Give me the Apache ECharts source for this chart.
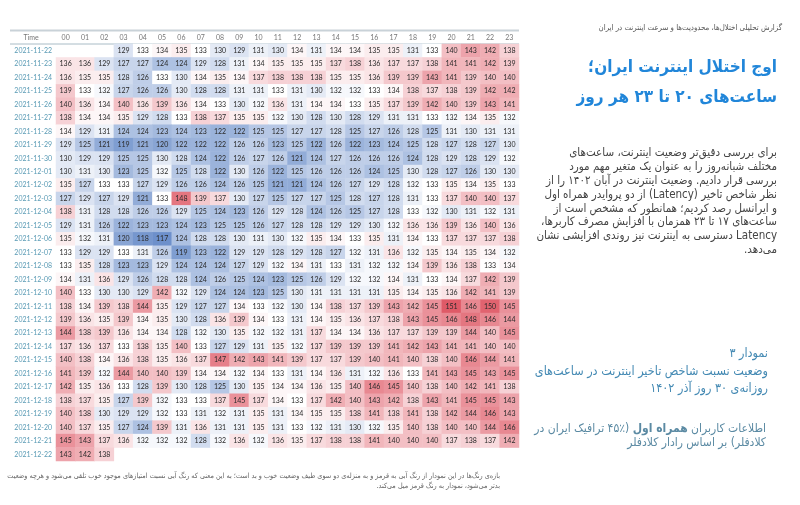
<!DOCTYPE html>
<html>
<head>
<meta charset="utf-8">
<script src="https://cdn.jsdelivr.net/npm/echarts@6/dist/echarts.min.js"></script>
<style>
html,body{margin:0;padding:0;background:#fff;}
#c{width:800px;height:505px;direction:rtl;}
</style>
</head>
<body>
<div id="c"></div>
<script>
const hours = ['00','01','02','03','04','05','06','07','08','09','10','11','12','13','14','15','16','17','18','19','20','21','22','23'];
const days = ['2021-11-22','2021-11-23','2021-11-24','2021-11-25','2021-11-26','2021-11-27','2021-11-28','2021-11-29','2021-11-30','2021-12-01','2021-12-02','2021-12-03','2021-12-04','2021-12-05','2021-12-06','2021-12-07','2021-12-08','2021-12-09','2021-12-10','2021-12-11','2021-12-12','2021-12-13','2021-12-14','2021-12-15','2021-12-16','2021-12-17','2021-12-18','2021-12-19','2021-12-20','2021-12-21','2021-12-22'];

const d1122 = [null,null,null,129,133,134,135,133,130,129,131,130,134,131,134,134,135,135,131,133,140,143,142,138];
const d1123 = [136,136,129,127,127,124,124,129,128,131,134,135,135,135,137,138,136,137,137,138,141,141,142,139];
const d1124 = [136,135,135,128,126,133,130,134,135,134,137,138,138,138,135,135,136,139,139,143,141,139,140,140];
const d1125 = [139,133,132,127,126,126,130,128,128,131,131,133,131,130,132,132,133,134,138,137,138,139,142,142];
const d1126 = [140,136,134,140,136,139,136,134,133,130,132,136,131,134,134,133,135,137,139,142,140,139,143,141];
const d1127 = [138,134,134,135,129,128,133,138,137,135,135,132,130,128,130,128,129,131,131,133,132,134,135,132];
const d1128 = [134,129,131,124,124,123,124,123,122,122,125,125,127,127,128,125,127,126,128,125,131,130,131,131];
const d1129 = [129,125,121,119,121,120,122,122,122,126,126,123,125,122,126,122,123,124,125,128,127,128,127,130];
const d1130 = [130,129,129,125,125,130,128,124,122,126,127,126,121,124,127,126,126,126,124,128,129,128,129,132];
const d1201 = [130,131,130,123,125,132,125,128,122,130,126,122,125,126,126,126,124,125,130,128,127,126,130,130];
const d1202 = [135,127,133,133,127,129,126,126,124,126,125,121,121,124,126,127,129,128,132,133,135,134,135,133];
const d1203 = [127,129,127,129,121,133,148,139,137,130,127,125,127,127,125,128,127,128,131,133,137,140,140,137];
const d1204 = [138,131,128,128,126,126,129,125,124,123,126,129,128,124,126,125,127,128,133,132,130,131,132,131];
const d1205 = [129,131,126,122,123,123,124,123,125,125,126,127,128,128,129,129,130,132,136,136,139,136,140,136];
const d1206 = [135,132,131,120,118,117,124,128,128,130,131,130,132,135,134,133,135,131,134,133,137,137,137,138];
const d1207 = [133,129,129,133,131,126,119,123,122,129,129,128,129,128,127,132,131,136,132,135,134,135,134,132];
const d1208 = [133,135,128,123,123,129,124,124,124,127,129,132,134,131,133,131,132,132,134,139,136,138,133,134];
const d1209 = [134,131,136,129,126,128,128,124,126,125,124,123,125,126,129,132,132,134,131,133,134,137,142,139];
const d1210 = [140,133,130,130,129,142,132,129,124,124,123,125,130,131,131,131,131,135,134,135,136,142,141,139];
const d1211 = [138,134,139,138,144,135,129,127,127,134,133,132,130,134,138,137,139,143,142,145,151,146,150,145];
const d1212 = [139,136,135,139,134,135,130,128,136,139,134,133,131,134,135,136,137,138,143,145,146,148,146,144];
const d1213 = [144,138,139,136,134,134,128,132,130,135,132,132,131,137,134,134,136,137,137,139,139,144,140,145];
const d1214 = [137,136,137,133,138,135,140,133,127,129,131,135,132,137,139,139,139,141,142,143,141,141,140,140];
const d1215 = [140,138,134,136,138,135,136,137,147,142,143,141,139,137,137,139,140,141,140,138,140,146,144,141];
const d1216 = [141,139,132,144,140,140,139,134,134,132,134,133,131,134,136,131,132,136,133,141,143,145,143,145];
const d1217 = [142,135,136,133,128,139,130,128,125,130,135,134,134,136,135,140,146,145,140,138,140,142,141,138];
const d1218 = [138,137,135,127,139,132,133,133,137,145,137,134,133,137,142,140,143,142,138,143,141,145,145,143];
const d1219 = [140,138,130,129,129,132,133,131,132,131,135,131,134,135,135,138,141,138,141,138,142,144,146,143];
const d1220 = [140,137,135,127,124,139,131,136,131,131,135,131,133,132,131,130,132,135,140,138,140,140,144,146];
const d1221 = [145,143,137,136,132,132,132,128,132,136,132,136,135,137,138,138,141,140,140,140,137,138,137,142];
const d1222 = [143,142,138,null,null,null,null,null,null,null,null,null,null,null,null,null,null,null,null,null,null,null,null,null];

const dayRows = [d1122,d1123,d1124,d1125,d1126,d1127,d1128,d1129,d1130,d1201,d1202,d1203,d1204,d1205,d1206,d1207,d1208,d1209,d1210,d1211,d1212,d1213,d1214,d1215,d1216,d1217,d1218,d1219,d1220,d1221,d1222];

const heatData = [];
dayRows.forEach((row, yi) => {
  row.forEach((v, xi) => { if (v !== null) heatData.push([xi, yi, v]); });
});

const FA = '"DejaVu Sans Condensed", "DejaVu Sans", sans-serif';
function txt(x, y, s, size, color, weight, rich) {
  const st = {
    text: s, fontSize: size, fill: color, fontWeight: weight || 'normal',
    fontFamily: FA, align: 'right', textAlign: 'right',
    verticalAlign: 'middle', textVerticalAlign: 'middle'
  };
  if (rich) st.rich = rich;
  return {type: 'text', x: x, y: y, silent: true, style: st};
}

const para = [
  'برای بررسی دقیق‌تر وضعیت اینترنت، ساعت‌های',
  'مختلف شبانه‌روز را به عنوان یک متغیر مهم مورد',
  'بررسی قرار دادیم. وضعیت اینترنت در آبان ۱۴۰۲ را از',
  'نظر شاخص تاخیر (Latency) از دو پروایدر همراه اول',
  'و ایرانسل رصد کردیم؛ همانطور که مشخص است از',
  'ساعت‌های ۱۷ تا ۲۳ همزمان با افزایش مصرف کاربرها،',
  'Latency دسترسی به اینترنت نیز روندی افزایشی نشان',
  'می‌دهد.'
];

const srcRich = {
  a: {fontSize: 12, color: '#5b8aa3', fontFamily: FA},
  b: {fontSize: 12, color: '#2b7fc4', fontFamily: FA, fontWeight: 'bold'}
};

const graphics = [
  {type:'line', silent:true, shape:{x1:10,y1:30.5,x2:519,y2:30.5}, style:{stroke:'#c9d2d8', lineWidth:2}},
  {type:'line', silent:true, shape:{x1:10,y1:44,x2:519,y2:44}, style:{stroke:'#a9bcc6', lineWidth:1}},
  {type:'text', x:31, y:37.5, silent:true, style:{text:'Time', fontSize:7, fill:'#777', fontFamily:'Lato', align:'center', textAlign:'center', verticalAlign:'middle', textVerticalAlign:'middle'}},
  txt(782, 28, 'گزارش تحلیلی اختلال‌ها، محدودیت‌ها و سرعت اینترنت در ایران', 7.8, '#555'),
  txt(777, 68, 'اوج اختلال اینترنت ایران؛', 17, '#2186d9', 'bold'),
  txt(777, 98, 'ساعت‌های ۲۰ تا ۲۳ هر روز', 17, '#2186d9', 'bold'),
  txt(768, 354, 'نمودار ۳', 12.5, '#4389b3'),
  txt(768, 372, 'وضعیت نسبت شاخص تاخیر اینترنت در ساعت‌های', 12.5, '#4389b3'),
  txt(768, 389, 'روزانه‌ی ۳۰ روز آذر ۱۴۰۲', 12.5, '#4389b3'),
  txt(766, 429, '{a|(۴۵٪ ترافیک ایران در}{a| }{b|همراه اول}{a| }{a|اطلاعات کاربران}', 12, '#5b8aa3', null, srcRich),
  txt(766, 443, 'کلادفلر) بر اساس رادار کلادفلر', 12, '#5b8aa3'),
  txt(500, 476, 'بازه‌ی رنگ‌ها در این نمودار از رنگ آبی به قرمز و به منزله‌ی دو سوی طیف وضعیت خوب و بد است؛ به این معنی که رنگ آبی نسبت امتیازهای موجود خوب تلقی می‌شود و هرچه وضعیت', 7.2, '#666'),
  txt(500, 486.5, 'بدتر می‌شود، نمودار به رنگ قرمز میل می‌کند.', 7.2, '#666')
];
para.forEach((s, i) => graphics.push(txt(777, 153 + i * 13.9, s, 11.5, '#444')));

const chart = echarts.init(document.getElementById('c'));
chart.setOption({
  animation: false,
  backgroundColor: '#fff',
  grid: {left: 56, top: 44, width: 463, height: 417, containLabel: false},
  xAxis: {
    type: 'category', data: hours, position: 'top',
    axisLine: {show: false}, axisTick: {show: false}, splitLine: {show: false},
    axisLabel: {fontSize: 7, color: '#777', margin: 3, fontFamily: 'Lato', interval: 0}
  },
  yAxis: {
    type: 'category', data: days, inverse: true,
    axisLine: {show: false}, axisTick: {show: false}, splitLine: {show: false},
    axisLabel: {fontSize: 7, color: '#5a9bb5', margin: 4, fontFamily: 'Lato', interval: 0}
  },
  visualMap: {
    show: false, type: 'continuous', min: 115, max: 151, dimension: 2,
    inRange: {color: ['#5b82c4', '#ffffff', '#df5a67']}
  },
  series: [{
    type: 'heatmap', data: heatData,
    label: {show: true, fontSize: 7, color: '#2a2a2a', fontFamily: 'Lato'},
    itemStyle: {borderWidth: 0},
    emphasis: {disabled: true}
  }],
  graphic: graphics
});
</script>
</body>
</html>
